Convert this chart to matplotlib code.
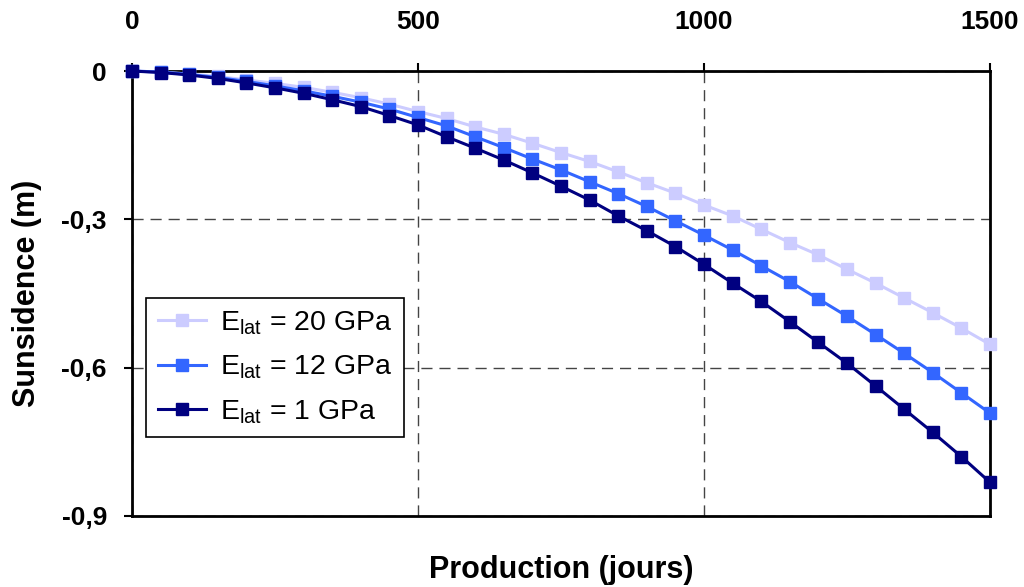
import matplotlib
matplotlib.use("Agg")
import matplotlib.pyplot as plt

plt.rcParams['font.family'] = ['Liberation Sans', 'DejaVu Sans']
plt.rcParams['mathtext.fontset'] = 'custom'
plt.rcParams['mathtext.rm'] = 'Liberation Sans'

days = list(range(0, 1501, 50))

e20 = [0, -0.002, -0.006, -0.011, -0.018, -0.025, -0.033, -0.043, -0.054, -0.067,
       -0.082, -0.096, -0.113, -0.128, -0.146, -0.165, -0.183, -0.204, -0.226, -0.247,
       -0.271, -0.293, -0.320, -0.347, -0.372, -0.401, -0.429, -0.459, -0.489, -0.520, -0.553]
e12 = [0, -0.002, -0.007, -0.013, -0.021, -0.030, -0.040, -0.051, -0.063, -0.077,
       -0.094, -0.111, -0.133, -0.155, -0.178, -0.200, -0.224, -0.248, -0.274, -0.303,
       -0.332, -0.362, -0.394, -0.426, -0.461, -0.496, -0.533, -0.571, -0.610, -0.651, -0.692]
e1 = [0, -0.003, -0.008, -0.015, -0.024, -0.034, -0.045, -0.058, -0.072, -0.090,
      -0.109, -0.133, -0.156, -0.180, -0.206, -0.233, -0.261, -0.293, -0.323, -0.355,
      -0.391, -0.429, -0.466, -0.507, -0.549, -0.591, -0.637, -0.684, -0.731, -0.780, -0.832]

labels = [r'E$_{\mathregular{lat}}$ = 20 GPa',
          r'E$_{\mathregular{lat}}$ = 12 GPa',
          r'E$_{\mathregular{lat}}$ = 1 GPa']
colors = ['#CCCCFF', '#3366FF', '#000080']

xticks = [0, 500, 1000, 1500]
yticks = [0, -0.3, -0.6, -0.9]
ytick_labels = ['0', '-0,3', '-0,6', '-0,9']

fig = plt.figure(figsize=(10.24, 5.87), dpi=100)
ax = fig.add_axes([0.1289, 0.121, 0.8379, 0.758])

for ys, lab, col in zip([e20, e12, e1], labels, colors):
    ax.plot(days, ys, color=col, lw=2.2, marker='s', ms=9,
            label=lab, clip_on=False, zorder=3)

ax.set_xlim(0, 1500)
ax.set_ylim(-0.9, 0)

ax.xaxis.tick_top()
ax.set_xticks(xticks)
ax.set_xticklabels([str(v) for v in xticks], fontsize=19, fontweight='bold')
ax.set_yticks(yticks)
ax.set_yticklabels(ytick_labels, fontsize=19, fontweight='bold')
ax.tick_params(axis='x', direction='out', length=6, width=1.5, color='black', pad=21)
ax.tick_params(axis='y', direction='out', length=6, width=1.5, color='black', pad=12)

for s in ax.spines.values():
    s.set_linewidth(2)
    s.set_color('black')

ax.grid(True, color='#444444', linestyle=(0, (8, 5)), linewidth=1.0)
ax.set_axisbelow(True)

ax.set_xlabel('Production (jours)', fontsize=22, fontweight='bold', labelpad=28)
ax.set_ylabel('Sunsidence (m)', fontsize=22, fontweight='bold', labelpad=14)

leg = ax.legend(loc='upper left', bbox_to_anchor=(0.0165, 0.49), fontsize=20.5,
                frameon=True, fancybox=False, edgecolor='black', framealpha=1,
                handlelength=1.7, handletextpad=0.5, borderpad=0.4,
                labelspacing=0.58, borderaxespad=0)
leg.get_frame().set_linewidth(1.2)

fig.savefig('out.png', dpi=100)
